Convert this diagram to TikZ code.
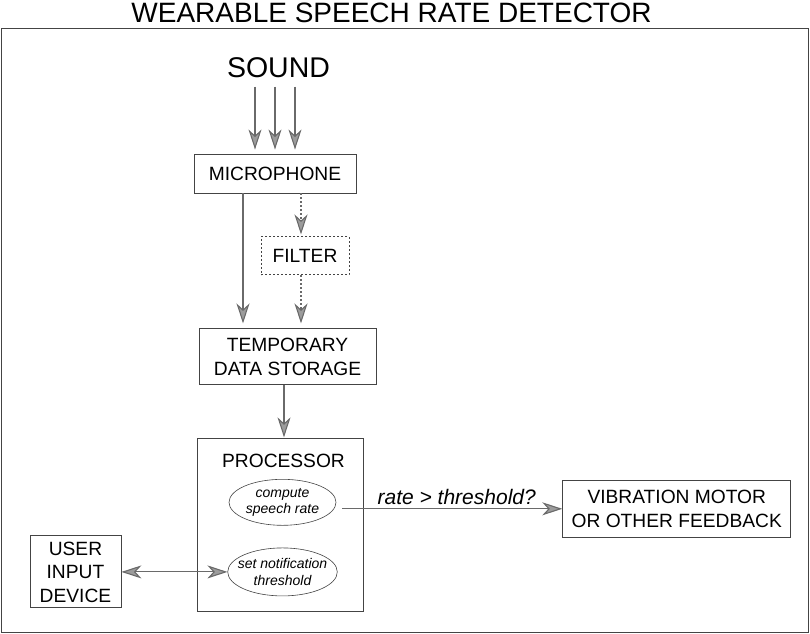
\documentclass[tikz,border=0pt]{standalone}
\usepackage{fontspec}
\setmainfont{Liberation Sans}
\usetikzlibrary{arrows.meta, positioning, shapes.geometric}

\definecolor{boxline}{HTML}{444444}
\definecolor{arrowline}{HTML}{6A6A6A}
\definecolor{tipfill}{HTML}{9C9C9C}

\begin{document}
\begin{tikzpicture}[
    x=1pt, y=-1pt,
    boxtext/.style={font=\fontsize{19.2}{23.5}\selectfont},
    box/.style={
        rectangle, draw=boxline, line width=0.9pt,
        inner sep=0pt, align=center, boxtext
    },
    filterbox/.style={box, dash pattern=on 2pt off 2pt},
    task/.style={
        ellipse, draw=boxline, line width=0.6pt,
        inner xsep=-6pt, inner ysep=0pt, align=center,
        font=\fontsize{14}{16.5}\selectfont\itshape
    },
    >={Stealth[length=20pt, width=13pt, inset=6pt, fill=tipfill]},
    flow/.style={draw=arrowline, line width=1.1pt, ->},
    dotflow/.style={flow, dash pattern=on 2pt off 2pt}
]
\useasboundingbox (0,0) rectangle (810,633);

\node[font=\fontsize{28}{30}\selectfont] (title) at (391.5,12.5) {WEARABLE SPEECH RATE DETECTOR};
\draw[boxline, line width=1pt] (1,28) rectangle (808,632);

\node[font=\fontsize{28.5}{30}\selectfont] (sound) at (278.5,68) {SOUND};
\node[box, minimum width=162pt, minimum height=39pt] (mic) at (275,173.5) {MICROPHONE};
\node[filterbox, minimum width=88pt, minimum height=38pt, below=43pt of mic, xshift=30pt] (filter) {FILTER};
\node[box, minimum width=177pt, minimum height=56pt, below=135pt of mic, xshift=12.5pt] (temp) {TEMPORARY\\DATA STORAGE};
\node[box, minimum width=166pt, minimum height=173pt, below=53pt of temp, xshift=-7.5pt] (proc) {};
\node[boxtext, below=12pt of proc.north, xshift=3.5pt] (proclabel) {PROCESSOR};
\node[task, minimum width=107pt, minimum height=46pt, below=8pt of proclabel, xshift=-1pt] (rate) {compute\\speech rate};
\node[task, minimum width=108pt, minimum height=48pt, below=22pt of rate] (thresh) {set notification\\threshold};
\node[box, minimum width=228pt, minimum height=57pt, right=226pt of rate, yshift=-6.5pt] (motor) {VIBRATION MOTOR\\OR OTHER FEEDBACK};
\node[box, minimum width=91pt, minimum height=72pt, left=106pt of thresh] (user) {USER\\INPUT\\DEVICE};

% sound into the microphone
\foreach \dx in {-20,0,20}
    \draw[flow, shorten <=5pt, shorten >=4pt] ([xshift=\dx pt]mic.north |- sound.south) -- ([xshift=\dx pt]mic.north);

\draw[flow, shorten >=5pt] ([xshift=-32pt]mic.south) -- ([xshift=-32pt]mic.south |- temp.north);
\draw[dotflow, shorten >=2pt] ([xshift=-4pt]filter.north |- mic.south) -- ([xshift=-4pt]filter.north);
\draw[dotflow, shorten >=5pt] ([xshift=-4pt]filter.south) -- ([xshift=-4pt]filter.south |- temp.north);
\draw[flow, shorten >=1pt] ([xshift=-3.5pt]temp.south) -- ([xshift=-3.5pt]temp.south |- proc.north);

\draw[flow] ([xshift=6pt]rate.east |- motor.west) -- node[above, pos=0.52, inner sep=4pt, font=\fontsize{21}{23}\selectfont\itshape] (ratelabel) {rate > threshold?} (motor.west);
\draw[flow, <->] (user) -- (thresh);

\end{tikzpicture}
\end{document}
